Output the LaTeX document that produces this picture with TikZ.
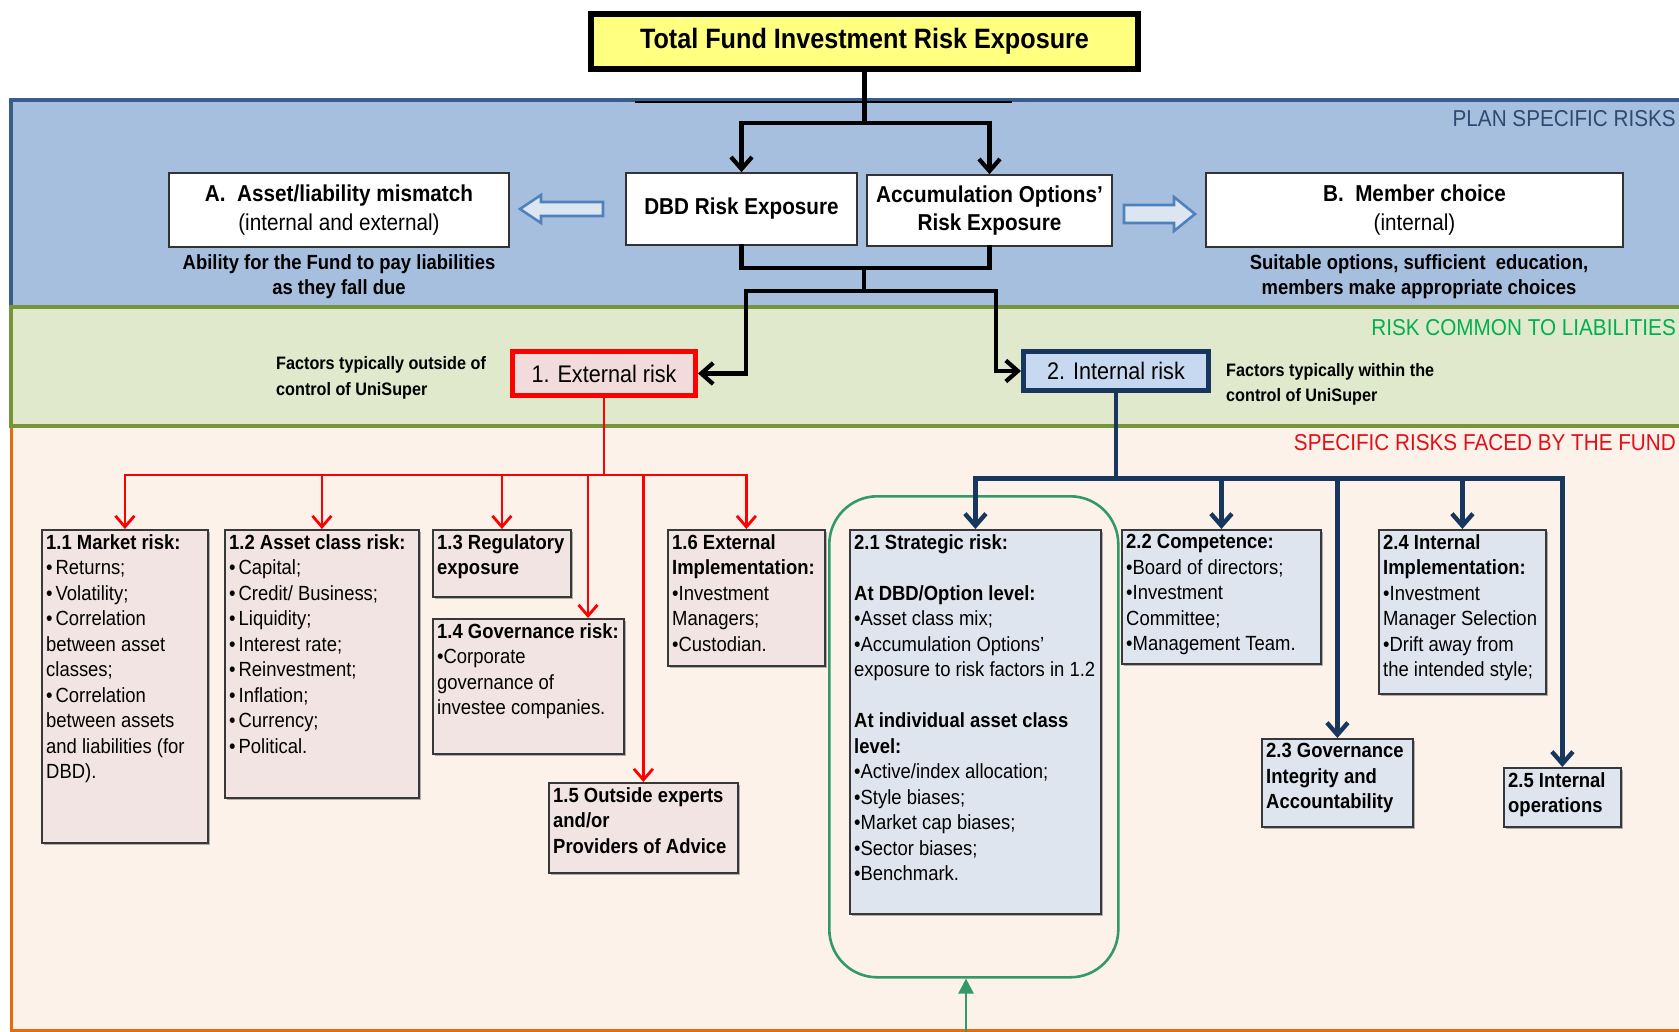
\documentclass[tikz,border=0pt]{standalone}
\usepackage{fontspec}
\setmainfont{Liberation Sans}[FakeStretch=0.9]
\usetikzlibrary{arrows.meta,shadows,calc}
\definecolor{bandblue}{HTML}{A7BFDE}
\definecolor{bandblueline}{HTML}{385D8A}
\definecolor{bandgreen}{HTML}{E0E9CC}
\definecolor{bandgreenline}{HTML}{77933C}
\definecolor{bandpeach}{HTML}{FDF2E9}
\definecolor{bandorange}{HTML}{E46C0A}
\definecolor{pinkbox}{HTML}{F2E4E2}
\definecolor{bluebox}{HTML}{DFE5EF}
\definecolor{extfill}{HTML}{F2DCDB}
\definecolor{intfill}{HTML}{C6D9F1}
\definecolor{navy}{HTML}{17375E}
\definecolor{titlefill}{HTML}{FFFF80}
\definecolor{grpgreen}{HTML}{339966}
\definecolor{arrowblue}{HTML}{4F81BD}
\definecolor{arrowfill}{HTML}{DCE6F2}
\definecolor{labelblue}{HTML}{2C4A72}
\definecolor{labelgreen}{HTML}{00B050}
\definecolor{labelred}{HTML}{E0101A}
\begin{document}
\begin{tikzpicture}[x=1pt,y=-1pt,
  every node/.style={inner sep=0pt},
  box/.style={draw=black!78, line width=1.8pt, anchor=north west, inner sep=0pt,
    drop shadow={shadow xshift=1.6pt, shadow yshift=-1.6pt, fill=black!35, opacity=0.9}},
  pinkbx/.style={box, fill=pinkbox},
  bluebx/.style={box, fill=bluebox},
  boxtxt/.style={anchor=north west, align=left, inner sep=0pt, font=\fontsize{20.5}{25.5}\selectfont},
  midbox/.style={draw=black!80, fill=white, line width=1.6pt, align=center},
  blk/.style={line width=4.2pt, black, line cap=rect},
  blkarr/.style={blk, -{Straight Barb[length=12pt,width=21pt]}},
  redln/.style={line width=2.8pt, red, line cap=rect},
  redarr/.style={redln, -{Straight Barb[length=11pt,width=19pt]}},
  navyln/.style={line width=4.4pt, navy, line cap=rect},
  navyarr/.style={navyln, -{Straight Barb[length=12pt,width=21pt]}},
  blockarrow/.style={draw=arrowblue, line width=2.6pt, fill=arrowfill, line join=miter},
  bandlabel/.style={anchor=east, font=\fontsize{23}{23}\selectfont}
]
\useasboundingbox (0,0) rectangle (1679,1032);
\fill[white] (0,0) rectangle (1679,1032);

% ---------------- bands ----------------
\path[fill=bandpeach, draw=bandorange, line width=3pt] (11,426) rectangle (1710,1030);
\path[fill=bandblue, draw=bandblueline, line width=3.5pt] (11,100) rectangle (1710,307);
\path[fill=bandgreen, draw=bandgreenline, line width=4pt] (11,307) rectangle (1710,426);
\draw[line width=2pt] (635,102) -- (1012,102);

\node[bandlabel, text=labelblue] (lplan) at (1676,119) {PLAN SPECIFIC RISKS};
\node[bandlabel, text=labelgreen] (lcommon) at (1676,328) {RISK COMMON TO LIABILITIES};
\node[bandlabel, text=labelred] (lspec) at (1676,443) {SPECIFIC RISKS FACED BY THE FUND};

% ---------------- top part ----------------
\node[draw=black, line width=5.5pt, fill=titlefill, minimum width=547pt, minimum height=55pt,
  font=\bfseries\fontsize{28}{32}\selectfont] (title) at (864.5,41.5) {Total Fund Investment Risk Exposure};

\node[midbox, minimum width=231pt, minimum height=72pt, font=\bfseries\fontsize{23}{28}\selectfont]
  (dbd) at (741.5,209) {DBD Risk Exposure};
\node[midbox, minimum width=245pt, minimum height=71pt, font=\bfseries\fontsize{23}{28}\selectfont]
  (acc) at (989.5,210.5) {Accumulation Options’\\Risk Exposure};
\node[midbox, minimum width=340pt, minimum height=74pt, font=\fontsize{23}{29}\selectfont]
  (boxa) at (339,210) {\textbf{A.\ \ Asset/liability mismatch}\\(internal and external)};
\node[midbox, minimum width=417pt, minimum height=74pt, font=\fontsize{23}{29}\selectfont]
  (boxb) at (1414.5,210) {\textbf{B.\ \ Member choice}\\(internal)};

\node[anchor=north, align=center, font=\bfseries\fontsize{20.5}{25}\selectfont] (capa) at (339,254)
  {Ability for the Fund to pay liabilities\\as they fall due};
\node[anchor=north, align=center, font=\bfseries\fontsize{20.5}{25}\selectfont] (capb) at (1419,254)
  {Suitable options, sufficient\ \ education,\\members make appropriate choices};

% block arrows
\draw[blockarrow] (520,209) -- (541,195) -- (541,202) -- (603,202) -- (603,216) -- (541,216) -- (541,223) -- cycle;
\draw[blockarrow] (1195,214) -- (1174,197) -- (1174,205) -- (1124,205) -- (1124,223) -- (1174,223) -- (1174,231) -- cycle;

% ---------------- middle band ----------------
\node[draw=red, line width=5pt, fill=extfill, minimum width=183pt, minimum height=44pt,
  font=\fontsize{24}{28}\selectfont] (ext) at (604,373.5) {1. External risk};
\node[draw=navy, line width=5pt, fill=intfill, minimum width=185pt, minimum height=38pt,
  font=\fontsize{24}{28}\selectfont] (int) at (1116,371) {2. Internal risk};

\node[anchor=west, align=left, font=\bfseries\fontsize{18}{25.5}\selectfont] (fext) at (276,378)
  {Factors typically outside of\\control of UniSuper};
\node[anchor=west, align=left, font=\bfseries\fontsize{18}{25.5}\selectfont] (fint) at (1226,384.5)
  {Factors typically within the\\control of UniSuper};

% ---------------- green group ----------------
\node[draw=grpgreen, line width=2.6pt, rounded corners=48pt, minimum width=289pt, minimum height=481pt,
  anchor=north west] (grp) at (828,495) {};

% ---------------- boxes ----------------
\node[pinkbx, minimum width=166pt, minimum height=313pt] (b11) at (41,529) {};
\node[pinkbx, minimum width=194pt, minimum height=268pt] (b12) at (224,529) {};
\node[pinkbx, minimum width=138pt, minimum height=67pt] (b13) at (432,529) {};
\node[pinkbx, minimum width=191pt, minimum height=135pt] (b14) at (432,618) {};
\node[pinkbx, minimum width=189pt, minimum height=90pt] (b15) at (548,782) {};
\node[pinkbx, minimum width=157pt, minimum height=136pt] (b16) at (667,529) {};
\node[bluebx, minimum width=251pt, minimum height=384pt] (b21) at (849,529) {};
\node[bluebx, minimum width=199pt, minimum height=134pt] (b22) at (1121,529) {};
\node[bluebx, minimum width=151pt, minimum height=88pt] (b23) at (1261,738) {};
\node[bluebx, minimum width=167pt, minimum height=164pt] (b24) at (1378,529) {};
\node[bluebx, minimum width=117pt, minimum height=59pt] (b25) at (1503,767) {};

\node[boxtxt] (t11) at ($(b11.north west)+(5,5)$) {\textbf{1.1 Market risk:}\\
  •\hspace{3pt}Returns;\\ •\hspace{3pt}Volatility;\\ •\hspace{3pt}Correlation\\ between asset\\ classes;\\
  •\hspace{3pt}Correlation\\ between assets\\ and liabilities (for\\ DBD).};
\node[boxtxt] (t12) at ($(b12.north west)+(5,5)$) {\textbf{1.2 Asset class risk:}\\
  •\hspace{3pt}Capital;\\ •\hspace{3pt}Credit/ Business;\\ •\hspace{3pt}Liquidity;\\ •\hspace{3pt}Interest rate;\\
  •\hspace{3pt}Reinvestment;\\ •\hspace{3pt}Inflation;\\ •\hspace{3pt}Currency;\\ •\hspace{3pt}Political.};
\node[boxtxt] (t13) at ($(b13.north west)+(5,5)$) {\textbf{1.3 Regulatory}\\ \textbf{exposure}};
\node[boxtxt] (t14) at ($(b14.north west)+(5,5)$) {\textbf{1.4 Governance risk:}\\
  •Corporate\\ governance of\\ investee companies.};
\node[boxtxt] (t15) at ($(b15.north west)+(5,5)$) {\textbf{1.5 Outside experts}\\ \textbf{and/or}\\ \textbf{Providers of Advice}};
\node[boxtxt] (t16) at ($(b16.north west)+(5,5)$) {\textbf{1.6 External}\\ \textbf{Implementation:}\\
  •Investment\\ Managers;\\ •Custodian.};
\node[boxtxt] (t21) at ($(b21.north west)+(5,5)$) {\textbf{2.1 Strategic risk:}\\[25.5pt]
  \textbf{At DBD/Option level:}\\ •Asset class mix;\\ •Accumulation Options’\\ exposure to risk factors in 1.2\\[25.5pt]
  \textbf{At individual asset class}\\ \textbf{level:}\\ •Active/index allocation;\\ •Style biases;\\
  •Market cap biases;\\ •Sector biases;\\ •Benchmark.};
\node[boxtxt] (t22) at ($(b22.north west)+(5,5)$) {\textbf{2.2 Competence:}\\
  •Board of directors;\\ •Investment\\ Committee;\\ •Management Team.};
\node[boxtxt] (t23) at ($(b23.north west)+(5,5)$) {\textbf{2.3 Governance}\\ \textbf{Integrity and}\\ \textbf{Accountability}};
\node[boxtxt] (t24) at ($(b24.north west)+(5,5)$) {\textbf{2.4 Internal}\\ \textbf{Implementation:}\\
  •Investment\\ Manager Selection\\ •Drift away from\\ the intended style;};
\node[boxtxt] (t25) at ($(b25.north west)+(5,5)$) {\textbf{2.5 Internal}\\ \textbf{operations}};

% ---------------- black connectors ----------------
\draw[blk] (title.south) -- ++(0,51) coordinate (j1);
\draw[blkarr] (j1) -| (dbd.north);
\draw[blkarr] (j1) -| (acc.north);
\coordinate (j2) at (864,268);
\draw[blk] (dbd.south) |- (j2) -| (acc.south);
\draw[blk] (j2) -- ++(0,23) coordinate (j3);
\coordinate (j3l) at (746,291);
\coordinate (j3r) at (996,291);
\draw[blkarr] (j3) -- (j3l) |- (ext.east);
\draw[blkarr] (j3) -- (j3r) |- (int.west);

% ---------------- red connectors ----------------
\draw[redln] (ext.south) -- ++(0,77) coordinate (r0);
\coordinate (r14) at (588,475);
\draw[redarr] (r0) -| (b11.north);
\draw[redarr] (r0) -| (b12.north);
\draw[redarr] (r0) -| (b13.north);
\draw[redarr] (r14) -- (r14 |- b14.north);
\draw[redarr] (r0) -| (b15.north);
\draw[redarr] (r0) -| (b16.north);

% ---------------- navy connectors ----------------
\draw[navyln] (int.south) -- ++(0,86) coordinate (n0);
\draw[navyarr] (n0) -| (b21.north);
\draw[navyarr] (n0) -| (b22.north);
\draw[navyarr] (n0) -| (b23.north);
\draw[navyarr] (n0) -| (b24.north);
\draw[navyarr] (n0) -| (b25.north);

% ---------------- green arrow ----------------
\coordinate (gbot) at (966,1032);
\draw[grpgreen, line width=2.6pt, -{Triangle[length=15pt,width=15pt]}] (gbot) -- (gbot |- grp.south);
\end{tikzpicture}
\end{document}
